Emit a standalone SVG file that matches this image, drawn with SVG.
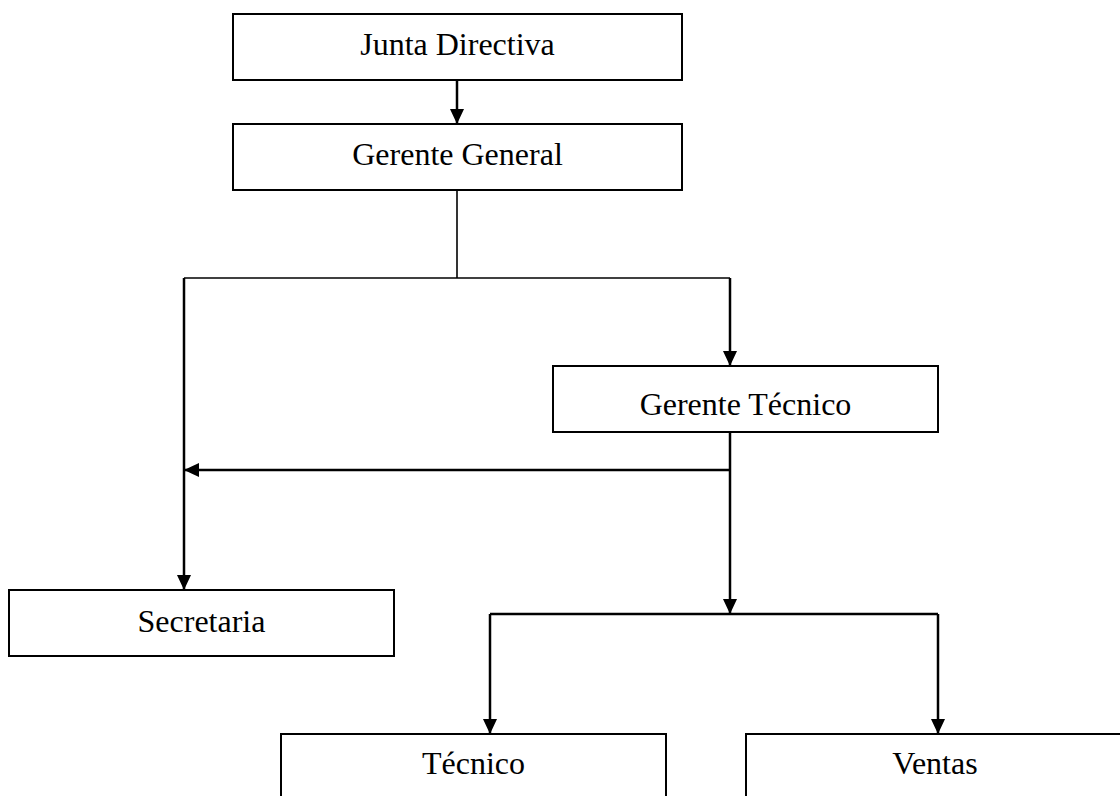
<svg xmlns="http://www.w3.org/2000/svg" width="1120" height="796" viewBox="0 0 1120 796">
  <defs>
    <marker id="arrow" markerWidth="15" markerHeight="14" refX="15" refY="7" viewBox="0 0 15 14" orient="auto" markerUnits="userSpaceOnUse">
      <path d="M0,0 L15,7 L0,14 Z" fill="#000"/>
    </marker>
    <style>
      .box { fill: #fff; stroke: #000; stroke-width: 2; }
      .label { font-family: "Liberation Serif", "Times New Roman", serif; font-size: 32px; fill: #000; text-anchor: middle; }
      .line { fill: none; stroke: #000; stroke-width: 2.5; }
      .thin { fill: none; stroke: #000; stroke-width: 1.6; }
    </style>
  </defs>
  <rect width="1120" height="796" fill="#fff"/>

  <!-- reporting lines -->
  <g id="connectors">
    <line class="line" x1="457" y1="80" x2="457" y2="124" marker-end="url(#arrow)"/>
    <line class="thin" x1="457" y1="190" x2="457" y2="278"/>
    <polyline class="thin" points="184,278 730,278"/>
    <line class="line" x1="730" y1="278" x2="730" y2="366" marker-end="url(#arrow)"/>
    <line class="line" x1="184" y1="278" x2="184" y2="590" marker-end="url(#arrow)"/>
    <line class="line" x1="730" y1="470" x2="184" y2="470" marker-end="url(#arrow)"/>
    <line class="line" x1="730" y1="432" x2="730" y2="614" marker-end="url(#arrow)"/>
    <polyline class="line" points="490,614 938,614"/>
    <line class="line" x1="490" y1="614" x2="490" y2="734" marker-end="url(#arrow)"/>
    <line class="line" x1="938" y1="614" x2="938" y2="734" marker-end="url(#arrow)"/>
  </g>

  <g id="junta-directiva">
    <rect class="box" x="233" y="14" width="449" height="66"/>
    <text class="label" x="457.5" y="55">Junta Directiva</text>
  </g>
  <g id="gerente-general">
    <rect class="box" x="233" y="124" width="449" height="66"/>
    <text class="label" x="457.5" y="165">Gerente General</text>
  </g>
  <g id="gerente-tecnico">
    <rect class="box" x="553" y="366" width="385" height="66"/>
    <text class="label" x="745.5" y="415">Gerente Técnico</text>
  </g>
  <g id="secretaria">
    <rect class="box" x="9" y="590" width="385" height="66"/>
    <text class="label" x="201.5" y="632">Secretaria</text>
  </g>
  <g id="tecnico">
    <rect class="box" x="281" y="734" width="385" height="80"/>
    <text class="label" x="473.5" y="774">Técnico</text>
  </g>
  <g id="ventas">
    <rect class="box" x="746" y="734" width="385" height="80"/>
    <text class="label" x="935" y="774">Ventas</text>
  </g>
</svg>
